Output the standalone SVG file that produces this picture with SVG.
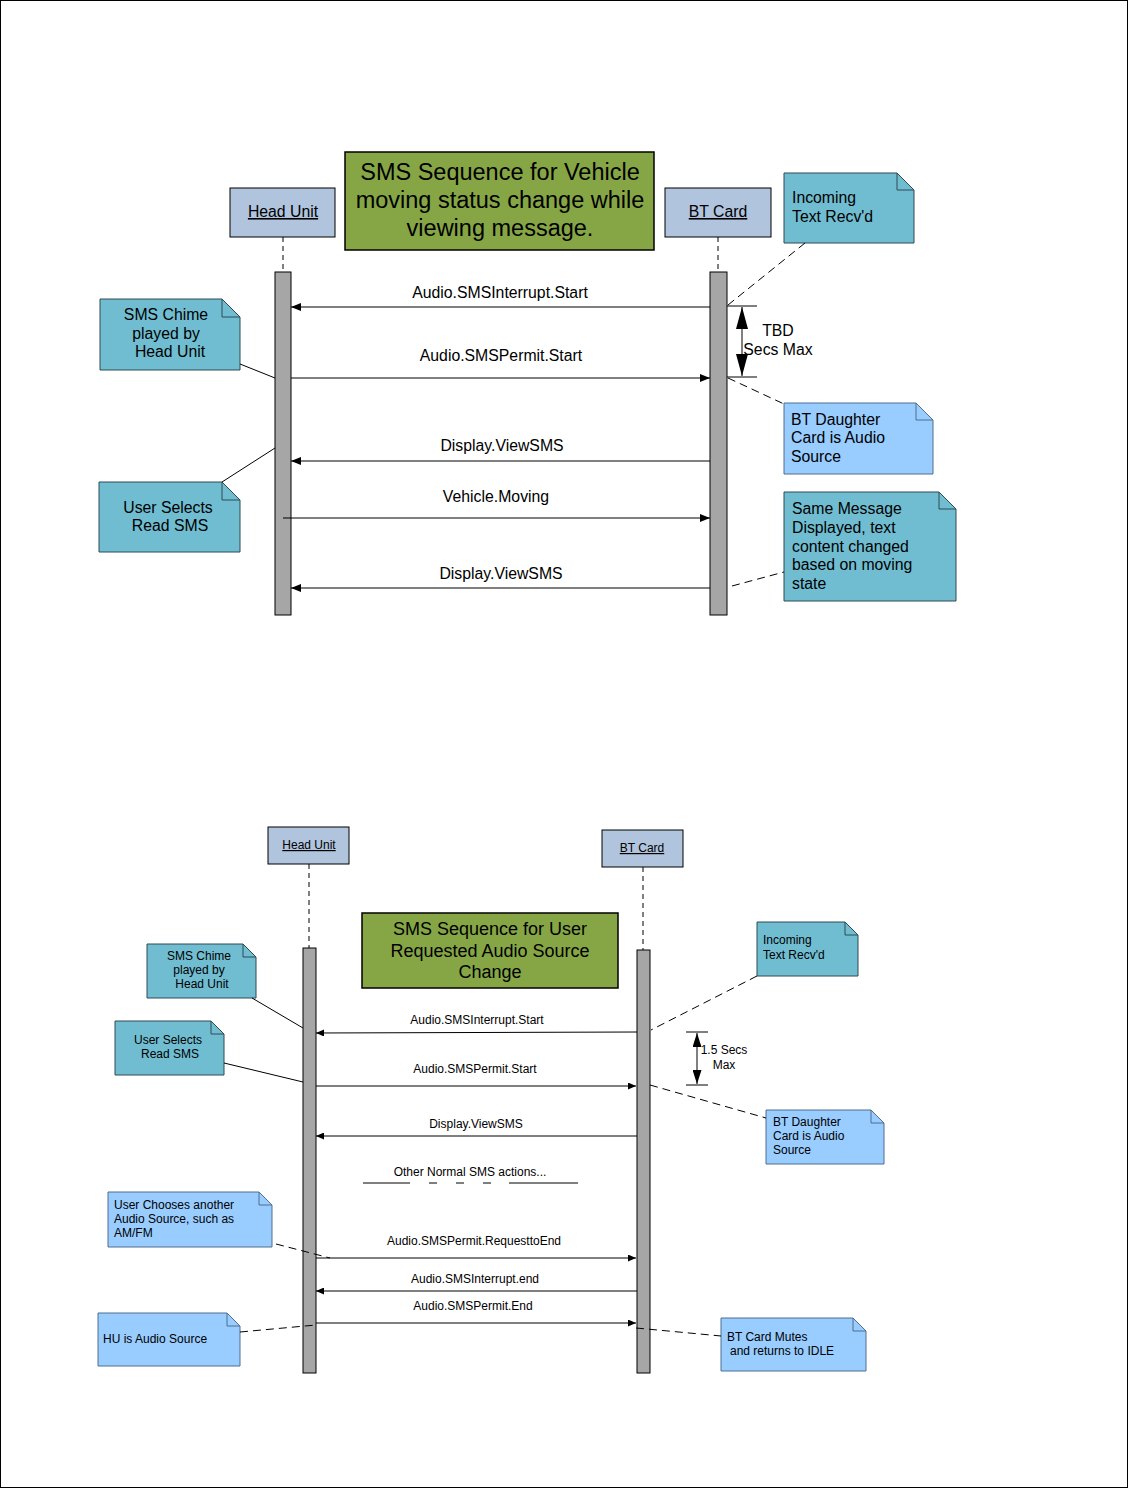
<svg xmlns="http://www.w3.org/2000/svg" width="1128" height="1488" viewBox="0 0 1128 1488">
<defs>
<style>
text{font-family:"Liberation Sans",Arial,sans-serif;fill:#000}
.t{font-size:15.8px}
.s{font-size:12px}
.obj{fill:#b0c4de;stroke:#000;stroke-width:1}
.title{fill:#86a646;stroke:#000;stroke-width:1.5}
.bar{fill:#a6a6a6;stroke:#000;stroke-width:1}
.teal{fill:#70bdd1;stroke:#2e4a52;stroke-width:1}
.lblue{fill:#99ccff;stroke:#4f6f8f;stroke-width:1}
.fold{fill:none}
.life{stroke:#000;stroke-width:1;stroke-dasharray:5,4;fill:none}
.msg{stroke:#000;stroke-width:1;fill:none}
.dash{stroke:#000;stroke-width:1;stroke-dasharray:8,5;fill:none}
.link{stroke:#000;stroke-width:1;fill:none}
.u{text-decoration:underline}
</style>
<marker id="ah" viewBox="0 0 10 8" refX="10" refY="4" markerWidth="10" markerHeight="8" markerUnits="userSpaceOnUse" orient="auto"><path d="M0,0 L10,4 L0,8 Z" fill="#000"/></marker>
<marker id="ahs" viewBox="0 0 8 7" refX="8" refY="3.5" markerWidth="8" markerHeight="7" markerUnits="userSpaceOnUse" orient="auto"><path d="M0,0 L8,3.5 L0,7 Z" fill="#000"/></marker>
<marker id="big" viewBox="0 0 22 12" refX="22" refY="6" markerWidth="22" markerHeight="12" markerUnits="userSpaceOnUse" orient="auto"><path d="M0,0 L22,6 L0,12 Z" fill="#000"/></marker>
<marker id="mid" viewBox="0 0 14 9" refX="14" refY="4.5" markerWidth="14" markerHeight="9" markerUnits="userSpaceOnUse" orient="auto"><path d="M0,0 L14,4.5 L0,9 Z" fill="#000"/></marker>
</defs>
<rect x="0.5" y="0.5" width="1127" height="1487" fill="#fff" stroke="#000"/>

<!-- ===== TOP DIAGRAM ===== -->
<g id="top-title">
<rect class="title" x="345" y="152" width="309" height="98"/>
<text x="500" y="180" font-size="23.5" text-anchor="middle">SMS Sequence for Vehicle</text>
<text x="500" y="208" font-size="23.5" text-anchor="middle">moving status change while</text>
<text x="500" y="236" font-size="23.5" text-anchor="middle">viewing message.</text>
</g>
<g id="top-headunit">
<rect class="obj" x="230" y="188" width="105" height="49"/>
<text class="u t" x="283" y="217" text-anchor="middle">Head Unit</text>
<line class="life" x1="283" y1="237" x2="283" y2="272"/>
<rect class="bar" x="275" y="272" width="16" height="343"/>
</g>
<g id="top-btcard">
<rect class="obj" x="665" y="188" width="106" height="49"/>
<text class="u t" x="718" y="217" text-anchor="middle">BT Card</text>
<line class="life" x1="718" y1="237" x2="718" y2="272"/>
<rect class="bar" x="710" y="272" width="17" height="343"/>
</g>
<g id="top-note-incoming">
<path class="teal" d="M784,173 H897 L914,190 V243 H784 Z"/>
<path class="teal fold" d="M897,173 V190 H914"/>
<text class="t" x="792" y="203">Incoming</text>
<text class="t" x="792" y="222">Text Recv'd</text>
</g>
<g id="top-note-chime">
<path class="teal" d="M100,299 H222 L240,317 V370 H100 Z"/>
<path class="teal fold" d="M222,299 V317 H240"/>
<text class="t" x="166" y="320" text-anchor="middle">SMS Chime</text>
<text class="t" x="166" y="339" text-anchor="middle">played by</text>
<text class="t" x="170" y="357" text-anchor="middle">Head Unit</text>
</g>
<g id="top-note-select">
<path class="teal" d="M99,482 H222 L240,500 V552 H99 Z"/>
<path class="teal fold" d="M222,482 V500 H240"/>
<text class="t" x="168" y="513" text-anchor="middle">User Selects</text>
<text class="t" x="170" y="531" text-anchor="middle">Read SMS</text>
</g>
<g id="top-note-daughter">
<path class="lblue" d="M784,403 H916 L933,420 V474 H784 Z"/>
<path class="lblue fold" d="M916,403 V420 H933"/>
<text class="t" x="791" y="425">BT Daughter</text>
<text class="t" x="791" y="443">Card is Audio</text>
<text class="t" x="791" y="462">Source</text>
</g>
<g id="top-note-same">
<path class="teal" d="M784,492 H939 L956,509 V601 H784 Z"/>
<path class="teal fold" d="M939,492 V509 H956"/>
<text class="t" x="792" y="514">Same Message</text>
<text class="t" x="792" y="533">Displayed, text</text>
<text class="t" x="792" y="552">content changed</text>
<text class="t" x="792" y="570">based on moving</text>
<text class="t" x="792" y="589">state</text>
</g>
<g id="top-timing">
<line class="msg" x1="727" y1="306" x2="757" y2="306" stroke-width="1.5"/>
<line class="msg" x1="727" y1="377" x2="757" y2="377" stroke-width="2"/>
<line class="msg" x1="742" y1="342" x2="742" y2="307" marker-end="url(#big)"/>
<line class="msg" x1="742" y1="342" x2="742" y2="376" marker-end="url(#big)"/>
<text class="t" x="778" y="336" text-anchor="middle">TBD</text>
<text class="t" x="778" y="355" text-anchor="middle">Secs Max</text>
</g>
<g id="top-connectors">
<line class="msg" x1="710" y1="307" x2="291" y2="307" marker-end="url(#ah)"/>
<text class="t" x="500" y="298" text-anchor="middle">Audio.SMSInterrupt.Start</text>
<line class="msg" x1="291" y1="378" x2="710" y2="378" stroke="#555" marker-end="url(#ah)"/>
<text class="t" x="501" y="361" text-anchor="middle">Audio.SMSPermit.Start</text>
<line class="msg" x1="710" y1="461" x2="291" y2="461" marker-end="url(#ah)"/>
<text class="t" x="502" y="451" text-anchor="middle">Display.ViewSMS</text>
<line class="msg" x1="283" y1="518" x2="710" y2="518" marker-end="url(#ah)"/>
<text class="t" x="496" y="502" text-anchor="middle">Vehicle.Moving</text>
<line class="msg" x1="710" y1="588" x2="291" y2="588" marker-end="url(#ah)"/>
<text class="t" x="501" y="579" text-anchor="middle">Display.ViewSMS</text>
<line class="dash" x1="805" y1="243" x2="728" y2="305"/>
<line class="link" x1="240" y1="364" x2="275" y2="378"/>
<line class="link" x1="222" y1="482" x2="275" y2="448"/>
<line class="dash" x1="728" y1="378" x2="784" y2="404"/>
<line class="dash" x1="732" y1="586" x2="784" y2="572"/>
</g>

<!-- ===== BOTTOM DIAGRAM ===== -->
<g id="bot-headunit">
<rect class="obj" x="268" y="827" width="81" height="37"/>
<text class="u s" x="309" y="849" text-anchor="middle">Head Unit</text>
<line class="life" x1="309" y1="864" x2="309" y2="948"/>
<rect class="bar" x="303" y="948" width="13" height="425"/>
</g>
<g id="bot-btcard">
<rect class="obj" x="602" y="830" width="81" height="37"/>
<text class="u s" x="642" y="852" text-anchor="middle">BT Card</text>
<line class="life" x1="643" y1="867" x2="643" y2="950"/>
<rect class="bar" x="637" y="950" width="13" height="423"/>
</g>
<g id="bot-title">
<rect class="title" x="362" y="913" width="256" height="75" stroke-width="1"/>
<text x="490" y="935" font-size="18" text-anchor="middle">SMS Sequence for User</text>
<text x="490" y="957" font-size="18" text-anchor="middle">Requested Audio Source</text>
<text x="490" y="978" font-size="18" text-anchor="middle">Change</text>
</g>
<g id="bot-note-incoming">
<path class="teal" d="M757,922 H845 L858,935 V976 H757 Z"/>
<path class="teal fold" d="M845,922 V935 H858"/>
<text class="s" x="763" y="944">Incoming</text>
<text class="s" x="763" y="959">Text Recv'd</text>
</g>
<g id="bot-note-chime">
<path class="teal" d="M147,944 H243 L256,957 V998 H147 Z"/>
<path class="teal fold" d="M243,944 V957 H256"/>
<text class="s" x="199" y="960" text-anchor="middle">SMS Chime</text>
<text class="s" x="199" y="974" text-anchor="middle">played by</text>
<text class="s" x="202" y="988" text-anchor="middle">Head Unit</text>
</g>
<g id="bot-note-select">
<path class="teal" d="M115,1021 H211 L224,1034 V1075 H115 Z"/>
<path class="teal fold" d="M211,1021 V1034 H224"/>
<text class="s" x="168" y="1044" text-anchor="middle">User Selects</text>
<text class="s" x="170" y="1058" text-anchor="middle">Read SMS</text>
</g>
<g id="bot-note-daughter">
<path class="lblue" d="M766,1110 H871 L884,1123 V1164 H766 Z"/>
<path class="lblue fold" d="M871,1110 V1123 H884"/>
<text class="s" x="773" y="1126">BT Daughter</text>
<text class="s" x="773" y="1140">Card is Audio</text>
<text class="s" x="773" y="1154">Source</text>
</g>
<g id="bot-note-chooses">
<path class="lblue" d="M108,1192 H259 L272,1205 V1247 H108 Z"/>
<path class="lblue fold" d="M259,1192 V1205 H272"/>
<text class="s" x="114" y="1209">User Chooses another</text>
<text class="s" x="114" y="1223">Audio Source, such as</text>
<text class="s" x="114" y="1237">AM/FM</text>
</g>
<g id="bot-note-hu">
<path class="lblue" d="M98,1313 H227 L240,1326 V1366 H98 Z"/>
<path class="lblue fold" d="M227,1313 V1326 H240"/>
<text class="s" x="103" y="1343">HU is Audio Source</text>
</g>
<g id="bot-note-mutes">
<path class="lblue" d="M721,1318 H853 L866,1331 V1371 H721 Z"/>
<path class="lblue fold" d="M853,1318 V1331 H866"/>
<text class="s" x="727" y="1341">BT Card Mutes</text>
<text class="s" x="730" y="1355">and returns to IDLE</text>
</g>
<g id="bot-timing">
<line class="msg" x1="686" y1="1032" x2="708" y2="1032"/>
<line class="msg" x1="686" y1="1085" x2="708" y2="1085"/>
<line class="msg" x1="697" y1="1058" x2="697" y2="1033" marker-end="url(#mid)"/>
<line class="msg" x1="697" y1="1058" x2="697" y2="1084" marker-end="url(#mid)"/>
<text class="s" x="724" y="1054" text-anchor="middle">1.5 Secs</text>
<text class="s" x="724" y="1069" text-anchor="middle">Max</text>
</g>
<g id="bot-connectors">
<line class="msg" x1="637" y1="1032" x2="316" y2="1033" marker-end="url(#ahs)"/>
<text class="s" x="477" y="1024" text-anchor="middle">Audio.SMSInterrupt.Start</text>
<line class="msg" x1="316" y1="1086" x2="636" y2="1086" marker-end="url(#ahs)"/>
<text class="s" x="475" y="1073" text-anchor="middle">Audio.SMSPermit.Start</text>
<line class="msg" x1="637" y1="1136" x2="316" y2="1136" marker-end="url(#ahs)"/>
<text class="s" x="476" y="1128" text-anchor="middle">Display.ViewSMS</text>
<text class="s" x="470" y="1176" text-anchor="middle">Other Normal SMS actions...</text>
<path class="msg" d="M363,1183 H410 M429,1183 H437 M456,1183 H464 M483,1183 H491 M509,1183 H578"/>
<line class="msg" x1="316" y1="1258" x2="636" y2="1258" marker-end="url(#ahs)"/>
<text class="s" x="474" y="1245" text-anchor="middle">Audio.SMSPermit.RequesttoEnd</text>
<line class="msg" x1="637" y1="1291" x2="316" y2="1291" marker-end="url(#ahs)"/>
<text class="s" x="475" y="1283" text-anchor="middle">Audio.SMSInterrupt.end</text>
<line class="msg" x1="316" y1="1323" x2="636" y2="1323" marker-end="url(#ahs)"/>
<text class="s" x="473" y="1310" text-anchor="middle">Audio.SMSPermit.End</text>
<line class="dash" x1="757" y1="976" x2="651" y2="1030"/>
<line class="link" x1="252" y1="998" x2="303" y2="1028"/>
<line class="link" x1="224" y1="1063" x2="303" y2="1082"/>
<line class="dash" x1="650" y1="1085" x2="766" y2="1118"/>
<line class="dash" x1="276" y1="1244" x2="330" y2="1258"/>
<line class="dash" x1="240" y1="1332" x2="316" y2="1325"/>
<line class="dash" x1="636" y1="1328" x2="721" y2="1336"/>
</g>
</svg>
